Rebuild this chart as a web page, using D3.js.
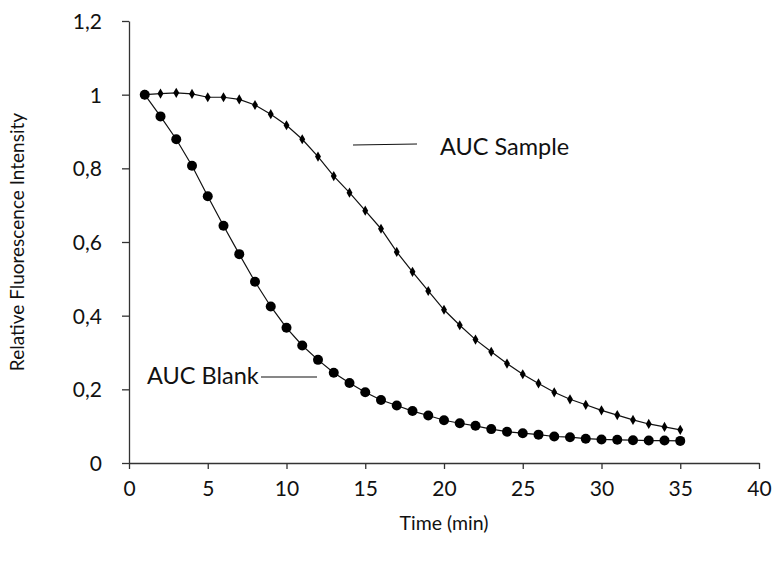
<!DOCTYPE html>
<html>
<head>
<meta charset="utf-8">
<script src="https://cdn.jsdelivr.net/npm/d3@7"></script>
<style>
  body { margin: 0; background: #fff; }
  svg text { font-family: Lato, "Open Sans", sans-serif; fill: #111; }
</style>
</head>
<body>
<div id="chart"></div>
<script>
// time points (min)
const times = d3.range(1, 36);
const blank = [1.0, 0.941, 0.879, 0.807, 0.724, 0.644, 0.567, 0.492, 0.425, 0.367,
  0.319, 0.280, 0.245, 0.217, 0.192, 0.171, 0.156, 0.141, 0.129, 0.116,
  0.108, 0.101, 0.092, 0.085, 0.081, 0.077, 0.072, 0.070, 0.066, 0.064,
  0.063, 0.062, 0.061, 0.061, 0.060];
const sample = [1.0, 1.003, 1.005, 1.002, 0.993, 0.993, 0.987, 0.972, 0.947, 0.917,
  0.879, 0.832, 0.779, 0.734, 0.685, 0.636, 0.573, 0.519, 0.467, 0.416,
  0.374, 0.335, 0.302, 0.270, 0.241, 0.216, 0.192, 0.173, 0.158, 0.143,
  0.130, 0.117, 0.106, 0.098, 0.090];
const xTicks = [0, 5, 10, 15, 20, 25, 30, 35, 40];
const yTicks = [0, 0.2, 0.4, 0.6, 0.8, 1, 1.2];

const width = 772, height = 563;
const margin = {top: 21, right: 13, bottom: 100, left: 129};

const svg = d3.select('#chart').append('svg')
  .attr('width', width)
  .attr('height', height);

const x = d3.scaleLinear().domain([0, 40]).range([margin.left, width - margin.right]);
const y = d3.scaleLinear().domain([0, 1.2]).range([height - margin.bottom, margin.top]);

const fmt = d => String(+d.toFixed(1)).replace('.', ',');

const xAxis = svg.append('g')
  .attr('transform', `translate(0,${y(0)})`)
  .call(d3.axisBottom(x).tickValues(xTicks).tickSize(6).tickPadding(12).tickSizeOuter(0));
const yAxis = svg.append('g')
  .attr('transform', `translate(${x(0)},0)`)
  .call(d3.axisLeft(y).tickValues(yTicks).tickFormat(fmt).tickSize(7).tickPadding(20).tickSizeOuter(0));

[xAxis, yAxis].forEach(g => {
  g.selectAll('path, line').attr('stroke', '#333').attr('stroke-width', 1.3);
  g.selectAll('text').style('font-size', '21px').attr('fill', '#111');
});
yAxis.selectAll('text').attr('dy', '0.35em');

svg.append('text')
  .attr('x', (x(0) + x(40)) / 2)
  .attr('y', 530)
  .attr('text-anchor', 'middle')
  .style('font-size', '19.5px')
  .text('Time (min)');

svg.append('text')
  .attr('transform', `translate(24,${(y(0) + y(1.2)) / 2}) rotate(-90)`)
  .attr('text-anchor', 'middle')
  .style('font-size', '19px')
  .text('Relative Fluorescence Intensity');

const line = d3.line().x((d, i) => x(times[i])).y(d => y(d));

svg.append('path').datum(sample)
  .attr('d', line).attr('fill', 'none').attr('stroke', '#111').attr('stroke-width', 1.2);
svg.append('path').datum(blank)
  .attr('d', line).attr('fill', 'none').attr('stroke', '#111').attr('stroke-width', 1.2);

svg.append('g').selectAll('path')
  .data(sample)
  .join('path')
  .attr('d', d3.symbol().type(d3.symbolDiamond).size(30))
  .attr('transform', (d, i) => `translate(${x(times[i])},${y(d)})`)
  .attr('fill', '#000');

svg.append('g').selectAll('circle')
  .data(blank)
  .join('circle')
  .attr('cx', (d, i) => x(times[i]))
  .attr('cy', d => y(d))
  .attr('r', 5)
  .attr('fill', '#000');

// annotations
svg.append('line')
  .attr('x1', 353).attr('y1', 145).attr('x2', 417).attr('y2', 144)
  .attr('stroke', '#111').attr('stroke-width', 1.2);
svg.append('text')
  .attr('x', 440).attr('y', 155)
  .style('font-size', '23.5px')
  .text('AUC Sample');

svg.append('line')
  .attr('x1', 261).attr('y1', 377).attr('x2', 317).attr('y2', 377)
  .attr('stroke', '#111').attr('stroke-width', 1.2);
svg.append('text')
  .attr('x', 147).attr('y', 384)
  .style('font-size', '23.5px')
  .text('AUC Blank');
</script>
</body>
</html>
